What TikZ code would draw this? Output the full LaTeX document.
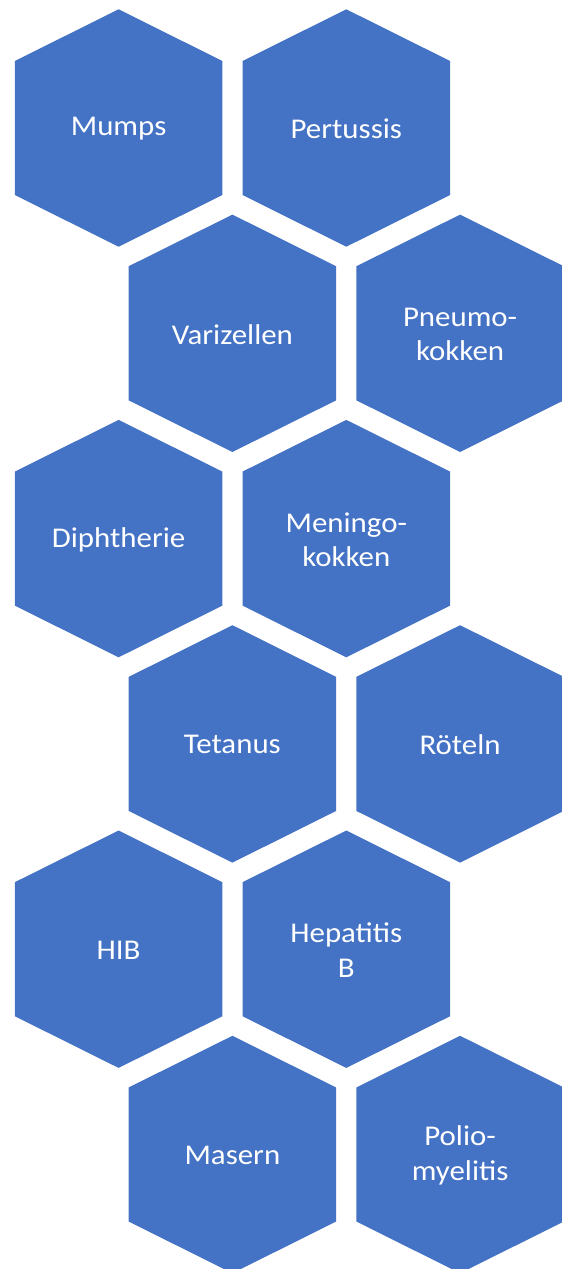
\documentclass[tikz,border=0pt]{standalone}
\usepackage{fontspec}
\setmainfont{Carlito}[FakeStretch=1.08]
\definecolor{hexblue}{HTML}{4472C4}
\tikzset{
  hexlabel/.style={text=white, align=center, inner sep=0pt,
    font=\fontsize{28.6}{34.4}\selectfont},
}
\newcommand{\hexcell}[4]{%
  \fill[hexblue] (#2,#3) ++(0,118.7) -- ++(103.8,-51.7) -- ++(0,-134) -- ++(-103.8,-51.7) -- ++(-103.8,51.7) -- ++(0,134) -- cycle;
  \node[hexlabel] (#1) at (#2,#3-1) {#4};
}
\begin{document}
\begin{tikzpicture}[x=1pt,y=1pt]
\useasboundingbox (0,0) rectangle (562,-1269);
\hexcell{mumps}{118.6}{-128}{Mumps}
\hexcell{pertussis}{346.3}{-128}{Pertussis}
\hexcell{varizellen}{232.4}{-333.3}{Varizellen}
\hexcell{pneumo}{460.1}{-333.3}{Pneumo-\\kokken}
\hexcell{diphtherie}{118.6}{-538.6}{Diphtherie}
\hexcell{meningo}{346.3}{-538.6}{Meningo-\\kokken}
\hexcell{tetanus}{232.4}{-743.9}{Tetanus}
\hexcell{roeteln}{460.1}{-743.9}{Röteln}
\hexcell{hib}{118.6}{-949.2}{HIB}
\hexcell{hepatitis}{346.3}{-949.2}{Hepatitis\\B}
\hexcell{masern}{232.4}{-1154.5}{Masern}
\hexcell{polio}{460.1}{-1154.5}{Polio-\\myelitis}
\end{tikzpicture}
\end{document}
